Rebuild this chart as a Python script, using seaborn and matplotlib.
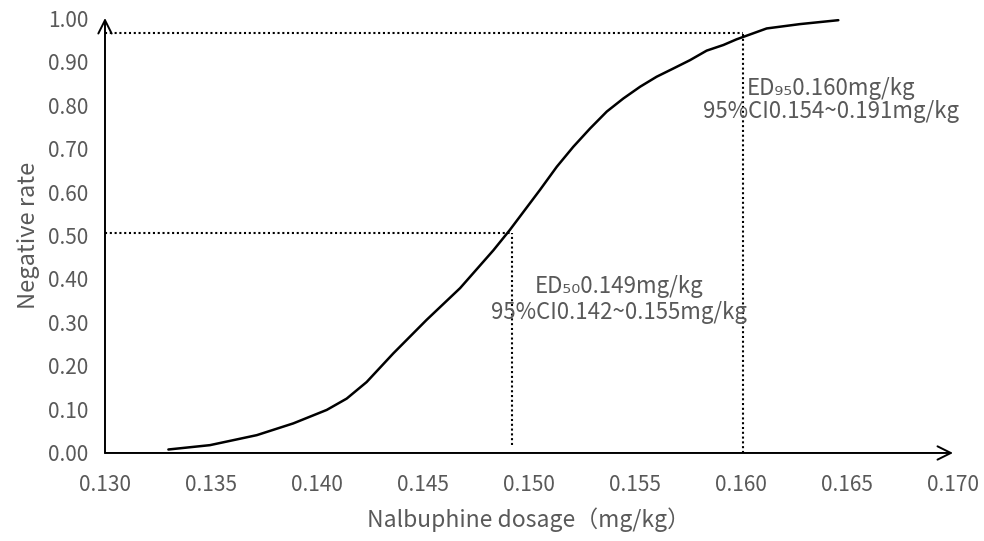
import seaborn as sns
import matplotlib.pyplot as plt
import pandas as pd

# curve
dose = [0.13299, 0.13495, 0.13716, 0.13888, 0.14046, 0.14140, 0.14234, 0.14360,
        0.14517, 0.14675, 0.14832, 0.14910, 0.15052, 0.15131, 0.15209, 0.15288,
        0.15367, 0.15445, 0.15524, 0.15602, 0.15681, 0.15759, 0.15838, 0.15917,
        0.15979, 0.16121, 0.16278, 0.16459]
rate = [0.008, 0.018, 0.041, 0.068, 0.099, 0.125, 0.163, 0.229,
        0.306, 0.379, 0.466, 0.513, 0.605, 0.658, 0.704, 0.746,
        0.785, 0.815, 0.842, 0.865, 0.884, 0.903, 0.925, 0.938,
        0.951, 0.976, 0.986, 0.995]

# ED guide lines
ed_x = [0.1492, 0.1601]
ed_y = [0.505, 0.966]
ed_bottom = [0.018, 0.0]

x_ticks = [0.130, 0.135, 0.140, 0.145, 0.150, 0.155, 0.160, 0.165, 0.170]
y_ticks = [0.0, 0.1, 0.2, 0.3, 0.4, 0.5, 0.6, 0.7, 0.8, 0.9, 1.0]

notes = [
    (0.15425, 0.382, 'ED₅₀0.149mg/kg'),
    (0.15425, 0.324, '95%CI0.142~0.155mg/kg'),
    (0.16425, 0.839, 'ED₉₅0.160mg/kg'),
    (0.16425, 0.784, '95%CI0.154~0.191mg/kg'),
]

sns.set_style('white')
plt.rcParams['font.family'] = ['Noto Sans CJK SC', 'DejaVu Sans']
gray = '#595959'

fig = plt.figure(figsize=(9.84, 5.41), dpi=100)
ax = fig.add_axes([0.1067, 0.1627, 0.8618, 0.804])

df = pd.DataFrame({'dose': dose, 'rate': rate})
sns.lineplot(data=df, x='dose', y='rate', color='black', linewidth=1.8, ax=ax)

for xv, yv, yb in zip(ed_x, ed_y, ed_bottom):
    ax.plot([x_ticks[0], xv], [yv, yv], ls=(0, (1, 1.3)), color='black', lw=1.5)
    ax.plot([xv, xv], [yb, yv], ls=(0, (1, 1.3)), color='black', lw=1.5)

for xv, yv, s in notes:
    ax.text(xv, yv, s, ha='center', va='center', fontsize=16, color=gray)

ax.set_xlim(x_ticks[0], x_ticks[-1])
ax.set_ylim(y_ticks[0], y_ticks[-1])
ax.set_xticks(x_ticks)
ax.set_xticklabels([f'{v:.3f}' for v in x_ticks])
ax.set_yticks(y_ticks)
ax.set_yticklabels([f'{v:.2f}' for v in y_ticks])
ax.tick_params(axis='both', length=0, labelsize=15, labelcolor=gray)
ax.tick_params(axis='x', pad=15)
ax.tick_params(axis='y', pad=12)

for sp in ax.spines.values():
    sp.set_visible(False)

# axes with arrowheads
ax.annotate('', xy=(x_ticks[-1], 0), xytext=(x_ticks[0], 0),
            arrowprops=dict(arrowstyle='->', color='black', lw=1.4,
                            mutation_scale=24, shrinkA=0, shrinkB=0),
            annotation_clip=False)
ax.annotate('', xy=(x_ticks[0], 1.0), xytext=(x_ticks[0], 0),
            arrowprops=dict(arrowstyle='->', color='black', lw=1.4,
                            mutation_scale=24, shrinkA=0, shrinkB=0),
            annotation_clip=False)

ax.set_xlabel('Nalbuphine dosage（mg/kg）', fontsize=16.5, color=gray, labelpad=8)
ax.set_ylabel('Negative rate', fontsize=17, color=gray, labelpad=6)

fig.savefig('out.png', dpi=100)
